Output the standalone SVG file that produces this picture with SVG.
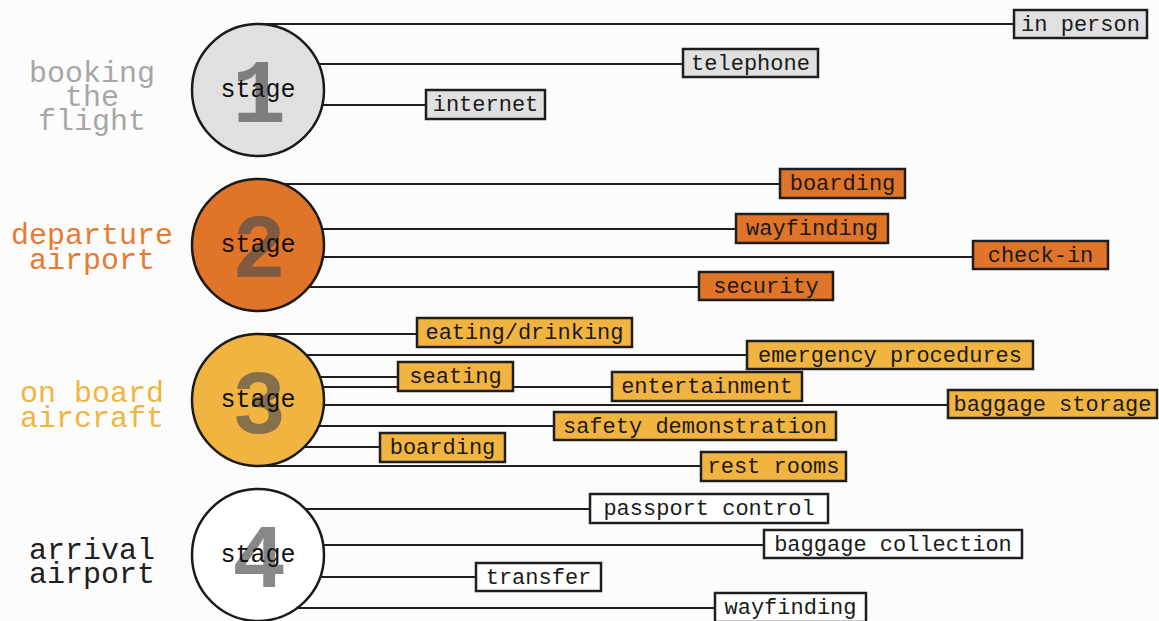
<svg xmlns="http://www.w3.org/2000/svg" width="1159" height="621" viewBox="0 0 1159 621">
<style>
.bg{fill:#fcfcfc}
.ln{stroke:#1e1e1e;stroke-width:2;fill:none}
.circ{stroke:#1a1a1a;stroke-width:2.5}
.box{stroke:#1e1e1e;stroke-width:2.5}
.bt{font-family:"Liberation Mono","Courier New",monospace;font-size:22px;fill:#1a1a1a;text-anchor:middle}
.st{font-family:"Liberation Mono","Courier New",monospace;font-size:25px;fill:#111;text-anchor:middle}
.num{font-family:"Liberation Mono","Courier New",monospace;font-size:90px;font-weight:bold;fill:#505050;fill-opacity:0.68;text-anchor:middle}
.lab{font-family:"Liberation Mono","Courier New",monospace;font-size:30px;text-anchor:middle}
.g1{fill:#e0e0e0}.g2{fill:#e07428}.g3{fill:#f2b441}.g4{fill:#ffffff}
</style>
<rect class="bg" x="0" y="0" width="1159" height="621"/>
<g id="connectors">
<line class="ln" x1="262" y1="24" x2="1014" y2="24"/>
<line class="ln" x1="258" y1="64" x2="683" y2="64"/>
<line class="ln" x1="258" y1="105" x2="426" y2="105"/>
<line class="ln" x1="284" y1="184" x2="780" y2="184"/>
<line class="ln" x1="258" y1="229" x2="736" y2="229"/>
<line class="ln" x1="258" y1="257" x2="973" y2="257"/>
<line class="ln" x1="258" y1="287" x2="699" y2="287"/>
<line class="ln" x1="266" y1="334" x2="417" y2="334"/>
<line class="ln" x1="258" y1="355" x2="747" y2="355"/>
<line class="ln" x1="258" y1="377" x2="398" y2="377"/>
<line class="ln" x1="258" y1="387" x2="612" y2="387"/>
<line class="ln" x1="258" y1="405" x2="948" y2="405"/>
<line class="ln" x1="258" y1="426" x2="554" y2="426"/>
<line class="ln" x1="258" y1="447" x2="380" y2="447"/>
<line class="ln" x1="266" y1="466" x2="701" y2="466"/>
<line class="ln" x1="258" y1="509" x2="590" y2="509"/>
<line class="ln" x1="258" y1="545" x2="764" y2="545"/>
<line class="ln" x1="258" y1="577" x2="476" y2="577"/>
<line class="ln" x1="266" y1="608" x2="715" y2="608"/>
</g>
<g id="stage1">
<text class="lab" x="92" y="82" fill="#a6a6a6">booking</text>
<text class="lab" x="92" y="106" fill="#a6a6a6">the</text>
<text class="lab" x="92" y="130" fill="#a6a6a6">flight</text>
<circle class="circ g1" cx="258" cy="90" r="66"/>
<text class="num" x="259" y="122">1</text>
<text class="st" x="258" y="97">stage</text>
</g>
<g id="stage2">
<text class="lab" x="92" y="244" fill="#e87a30">departure</text>
<text class="lab" x="92" y="269" fill="#e87a30">airport</text>
<circle class="circ g2" cx="258" cy="245" r="66"/>
<text class="num" x="259" y="277">2</text>
<text class="st" x="258" y="252">stage</text>
</g>
<g id="stage3">
<text class="lab" x="92" y="402" fill="#f2b440">on board</text>
<text class="lab" x="92" y="427" fill="#f2b440">aircraft</text>
<circle class="circ g3" cx="258" cy="400" r="66"/>
<text class="num" x="259" y="433">3</text>
<text class="st" x="258" y="407">stage</text>
</g>
<g id="stage4">
<text class="lab" x="92" y="559" fill="#1e1e1e">arrival</text>
<text class="lab" x="92" y="583" fill="#1e1e1e">airport</text>
<circle class="circ g4" cx="258" cy="555" r="66"/>
<text class="num" x="259" y="587">4</text>
<text class="st" x="258" y="562">stage</text>
</g>
<g id="in-person"><rect class="box g1" x="1014" y="10" width="133" height="28"/><text class="bt" x="1080.5" y="31">in person</text></g>
<g id="telephone"><rect class="box g1" x="683" y="49" width="135" height="28"/><text class="bt" x="750.5" y="70">telephone</text></g>
<g id="internet"><rect class="box g1" x="426" y="90" width="119" height="29"/><text class="bt" x="485.5" y="111">internet</text></g>
<g id="boarding-dep"><rect class="box g2" x="780" y="169" width="125" height="29"/><text class="bt" x="842.5" y="190">boarding</text></g>
<g id="wayfinding-dep"><rect class="box g2" x="736" y="214" width="152" height="29"/><text class="bt" x="812" y="235">wayfinding</text></g>
<g id="check-in"><rect class="box g2" x="973" y="241" width="135" height="28"/><text class="bt" x="1040.5" y="262">check-in</text></g>
<g id="security"><rect class="box g2" x="699" y="272" width="134" height="28"/><text class="bt" x="766" y="293">security</text></g>
<g id="eating-drinking"><rect class="box g3" x="417" y="318" width="215" height="29"/><text class="bt" x="524.5" y="339">eating/drinking</text></g>
<g id="emergency"><rect class="box g3" x="747" y="341" width="286" height="28"/><text class="bt" x="890" y="362">emergency procedures</text></g>
<g id="seating"><rect class="box g3" x="398" y="362" width="115" height="29"/><text class="bt" x="455.5" y="383">seating</text></g>
<g id="entertainment"><rect class="box g3" x="612" y="372" width="190" height="29"/><text class="bt" x="707" y="393">entertainment</text></g>
<g id="baggage-storage"><rect class="box g3" x="948" y="390" width="209" height="28"/><text class="bt" x="1052.5" y="411">baggage storage</text></g>
<g id="safety-demo"><rect class="box g3" x="554" y="412" width="282" height="28"/><text class="bt" x="695" y="433">safety demonstration</text></g>
<g id="boarding-air"><rect class="box g3" x="380" y="433" width="125" height="29"/><text class="bt" x="442.5" y="454">boarding</text></g>
<g id="rest-rooms"><rect class="box g3" x="701" y="452" width="145" height="29"/><text class="bt" x="773.5" y="473">rest rooms</text></g>
<g id="passport-control"><rect class="box g4" x="590" y="494" width="238" height="29"/><text class="bt" x="709" y="515">passport control</text></g>
<g id="baggage-collection"><rect class="box g4" x="764" y="530" width="258" height="28"/><text class="bt" x="893" y="551">baggage collection</text></g>
<g id="transfer"><rect class="box g4" x="476" y="563" width="125" height="28"/><text class="bt" x="538.5" y="584">transfer</text></g>
<g id="wayfinding-arr"><rect class="box g4" x="715" y="593" width="151" height="29"/><text class="bt" x="790.5" y="614">wayfinding</text></g>
</svg>
